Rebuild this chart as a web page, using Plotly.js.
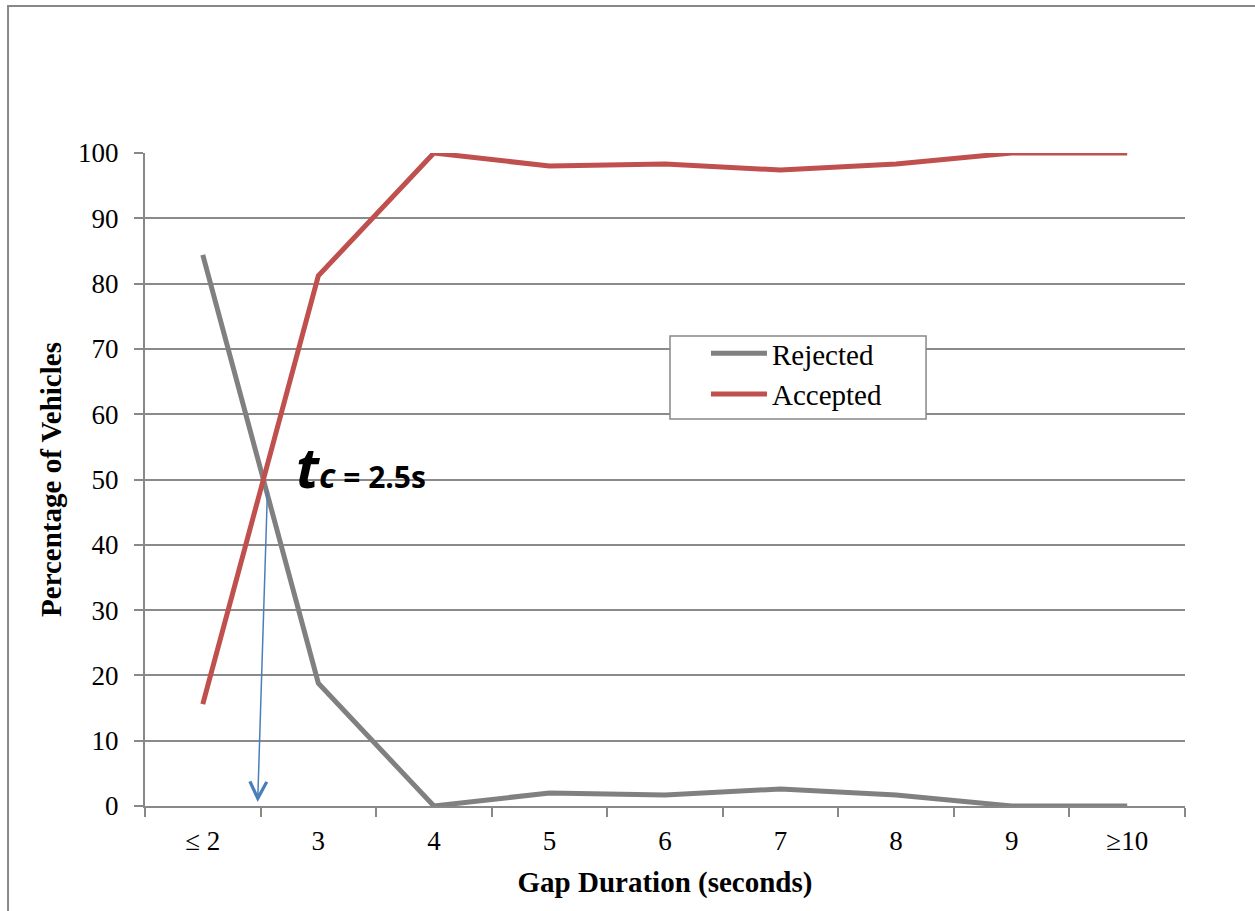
<!DOCTYPE html>
<html><head><meta charset="utf-8">
<script src="https://cdn.plot.ly/plotly-3.0.1.min.js"></script>
<style>html,body{margin:0;padding:0;background:#fff}#chart{width:1255px;height:911px}</style>
</head><body><div id="chart"></div>
<script>
const categories = ["\u2264 2","3","4","5","6","7","8","9","\u226510"];
const rejected = [84.4, 18.8, 0, 2.0, 1.7, 2.6, 1.7, 0, 0];
const accepted = [15.6, 81.2, 100, 98.0, 98.3, 97.4, 98.3, 100, 100];
const yTicks = [0,10,20,30,40,50,60,70,80,90,100];

const serif = "Liberation Serif, Times New Roman, serif";
const traces = [
  {x: categories, y: rejected, name: "Rejected", type: "scatter", mode: "lines",
   line: {color: "#808080", width: 5}},
  {x: categories, y: accepted, name: "Accepted", type: "scatter", mode: "lines",
   line: {color: "#c0504d", width: 5}}
];
const layout = {
  width: 1255, height: 911,
  margin: {l: 145, r: 70, t: 153, b: 105},
  paper_bgcolor: "#fff", plot_bgcolor: "#fff",
  font: {family: serif, color: "#000", size: 27},
  showlegend: true,
  legend: {x: 0.5394, y: 0.732, xanchor: "left", yanchor: "top",
    borderwidth: 0, bgcolor: "rgba(0,0,0,0)",
    font: {family: serif, size: 29}, tracegroupgap: 0, itemwidth: 56},
  xaxis: {type: "category", range: [-0.5, 8.5], tickson: "boundaries",
    ticks: "outside", ticklen: 9, tickcolor: "#888", tickwidth: 2,
    showline: true, linecolor: "#888", linewidth: 2, showgrid: false, zeroline: false,
    tickfont: {family: serif, size: 27}, ticklabelstandoff: 10,
    title: {text: "<b>Gap Duration (seconds)</b>", font: {family: serif, size: 29}, standoff: 16}},
  yaxis: {range: [0, 100], tickvals: yTicks, ticks: "outside", ticklen: 9, tickcolor: "#888", tickwidth: 2,
    showline: true, linecolor: "#888", linewidth: 2, showgrid: true, gridcolor: "#8a8a8a", gridwidth: 2,
    zeroline: false, tickfont: {family: serif, size: 27}, ticklabelstandoff: 10,
    title: {text: "<b>Percentage of Vehicles</b>", font: {family: serif, size: 29}, standoff: 8}},
  shapes: [
    {type: "rect", xref: "paper", yref: "paper", x0: -0.1317, y0: -1, x1: 2, y1: 1.2251,
     line: {color: "#888", width: 2}, fillcolor: "rgba(0,0,0,0)", layer: "below"},
    {type: "rect", xref: "paper", yref: "paper", x0: 0.5048, y0: 0.5926, x1: 0.751, y1: 0.7198,
     line: {color: "#888", width: 1.5}, fillcolor: "#fff", layer: "above"}
  ],
  annotations: [
    {xref: "x", yref: "y", axref: "x", ayref: "y", x: 0.475, y: 0.6, ax: 0.56, ay: 48.5,
     showarrow: true, arrowhead: 5, arrowsize: 2.2, arrowwidth: 1.5, arrowcolor: "#4a7ebb", text: ""},
    {xref: "x", yref: "y", x: 0.79, y: 52, xanchor: "left", yanchor: "middle", showarrow: false,
     text: "<b><i><span style='font-size:56px'>t</span><span style='font-size:34px'>c</span></i> = 2.5s</b>",
     font: {family: "Open Sans, Liberation Sans, sans-serif", size: 30, color: "#000"}}
  ]
};
Plotly.newPlot("chart", traces, layout, {displayModeBar: false, staticPlot: true});
</script></body></html>
